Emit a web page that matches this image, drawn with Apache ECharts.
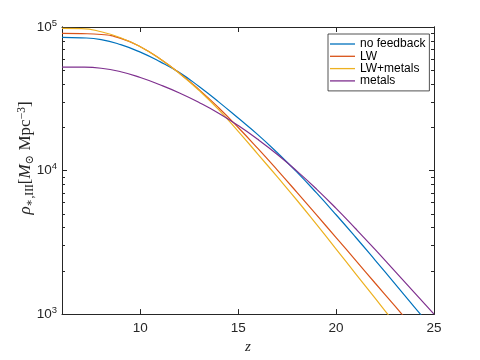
<!DOCTYPE html>
<html>
<head>
<meta charset="utf-8">
<script src="https://cdn.jsdelivr.net/npm/echarts@6/dist/echarts.min.js"></script>
<style>
  html, body { margin: 0; background: #fff; }
  #chart { width: 480px; height: 360px; }
</style>
</head>
<body>
<div id="chart"></div>
<script>
// redshift grid
const z = [6, 7, 8, 9, 10, 11, 12, 13, 14, 15, 16, 17, 18, 19, 20, 21, 22, 23, 24, 25];
// Pop III star formation rate density
const noFeedback = [84700, 84100, 81700, 75300, 66800, 57400, 48100, 38500, 30100, 23200, 17800, 13300, 9750, 6980, 4920, 3430, 2370, 1630, 1120, 769];
const lw = [90200, 89900, 88700, 83400, 72900, 60000, 47600, 36600, 27400, 19950, 14260, 10070, 7050, 4910, 3410, 2370, 1640, 1140, 789, 547];
const lwMetals = [97900, 97500, 92700, 84100, 72900, 60100, 47500, 36200, 26600, 18750, 13030, 9020, 6210, 4210, 2840, 1910, 1285, 865, 582, 392];
const metals = [52600, 52500, 51600, 48800, 44500, 39600, 34700, 29800, 25100, 20600, 16500, 12940, 9910, 7430, 5450, 3930, 2810, 1990, 1410, 1000];

const seriesNames = ['no feedback', 'LW', 'LW+metals', 'metals'];
const seriesValues = [noFeedback, lw, lwMetals, metals];
const colors = ['#0072BD', '#D95319', '#EDB120', '#7E2F8E'];

const xTicks = [10, 15, 20, 25];
const xTopTicks = [10, 15, 20];
const yMinorTicks = [2000, 3000, 4000, 5000, 6000, 7000, 8000, 9000, 20000, 30000, 40000, 50000, 60000, 70000, 80000, 90000];

const axisColor = '#262626';
const sans = "'Liberation Sans', Arial, sans-serif";
const serif = "'Liberation Serif', 'DejaVu Serif', serif";

let myChart = echarts.init(document.getElementById('chart'));

function pairs(vals) {
  return z.map((v, i) => [v, vals[i]]);
}

// base log axis, copied for the 4 y axes (labels / minor ticks / right side)
function yAxisBase(pos) {
  return {
    type: 'log',
    logBase: 10,
    min: 1000,
    max: 100000,
    position: pos,
    axisLine: { show: true, lineStyle: { color: axisColor, width: 1 } },
    splitLine: { show: false },
    axisLabel: { show: false },
    axisTick: { show: true, inside: true, length: 5, lineStyle: { color: axisColor } }
  };
}

let yLeft = yAxisBase('left');
yLeft.axisLabel = {
  show: true,
  margin: 5,
  formatter: function (v) {
    return '{b|10}{s|' + Math.round(Math.log10(v)) + '}';
  },
  rich: {
    b: { fontSize: 13.5, fontFamily: sans, color: axisColor, lineHeight: 18 },
    s: { fontSize: 9.5, fontFamily: sans, color: axisColor, lineHeight: 8, verticalAlign: 'top' }
  }
};
let yLeftMinor = yAxisBase('left');
yLeftMinor.axisTick.length = 3;
yLeftMinor.axisTick.customValues = yMinorTicks;
let yRight = yAxisBase('right');
let yRightMinor = yAxisBase('right');
yRightMinor.axisTick.length = 3;
yRightMinor.axisTick.customValues = yMinorTicks;

myChart.setOption({
  animation: false,
  backgroundColor: '#fff',
  grid: { left: 62, top: 27, width: 372, height: 293, containLabel: false },
  legend: {
    orient: 'vertical',
    left: 328,
    top: 34,
    padding: [4, 4, 4, 2],
    itemGap: 0.3,
    itemWidth: 25,
    itemHeight: 1.3,
    icon: 'rect',
    borderColor: axisColor,
    borderWidth: 0.8,
    backgroundColor: '#fff',
    textStyle: { fontSize: 12, fontFamily: sans, color: '#000', lineHeight: 10 },
    data: seriesNames
  },
  xAxis: [
    {
      type: 'value',
      min: 6,
      max: 25,
      position: 'bottom',
      name: 'z',
      nameLocation: 'middle',
      nameGap: 24,
      nameTextStyle: { fontFamily: serif, fontStyle: 'italic', fontSize: 15, color: axisColor },
      axisLine: { show: true, lineStyle: { color: axisColor, width: 1 } },
      axisTick: { show: true, inside: true, length: 5, customValues: xTicks, lineStyle: { color: axisColor } },
      axisLabel: { show: true, margin: 7, customValues: xTicks, fontSize: 13.5, fontFamily: sans, color: axisColor },
      splitLine: { show: false }
    },
    {
      type: 'value',
      min: 6,
      max: 25,
      position: 'top',
      axisLine: { show: true, lineStyle: { color: axisColor, width: 1 } },
      axisTick: { show: true, inside: true, length: 5, customValues: xTopTicks, lineStyle: { color: axisColor } },
      axisLabel: { show: false },
      splitLine: { show: false }
    }
  ],
  yAxis: [yLeft, yLeftMinor, yRight, yRightMinor],
  graphic: [
    {
      type: 'text',
      x: 26,
      y: 158,
      rotation: Math.PI / 2,
      style: {
        text: '{i|ρ}{sub|∗,III}{r|[}{i|M}{sub|⊙}{r| Mpc}{sup|−3}{r|]}',
        align: 'center',
        verticalAlign: 'middle',
        rich: {
          i: { fontFamily: serif, fontStyle: 'italic', fontSize: 17, lineHeight: 20, fill: axisColor },
          r: { fontFamily: serif, fontSize: 17, lineHeight: 20, fill: axisColor },
          sub: { fontFamily: serif, fontSize: 11.5, lineHeight: 11, verticalAlign: 'bottom', fill: axisColor },
          sup: { fontFamily: serif, fontSize: 11.5, lineHeight: 11, verticalAlign: 'top', fill: axisColor }
        }
      }
    }
  ],
  series: seriesValues.map((vals, idx) => ({
    name: seriesNames[idx],
    type: 'line',
    xAxisIndex: 0,
    yAxisIndex: 0,
    data: pairs(vals),
    symbol: 'none',
    smooth: 0.5,
    clip: true,
    color: colors[idx],
    lineStyle: { color: colors[idx], width: 1.2 }
  }))
});
</script>
</body>
</html>
